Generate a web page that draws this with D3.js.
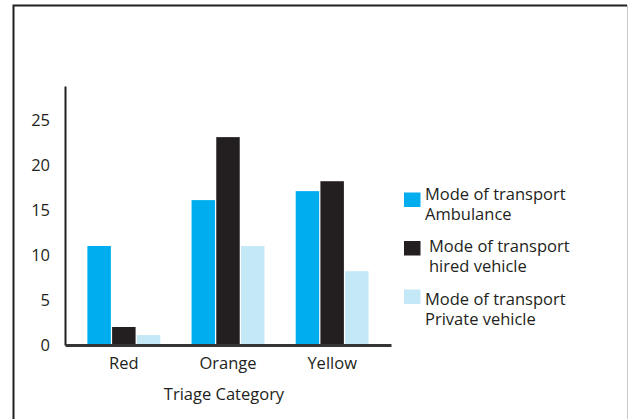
<!DOCTYPE html>
<html>
<head>
<meta charset="utf-8">
<script src="https://cdn.jsdelivr.net/npm/d3@7"></script>
<style>
	body{margin:0;background:#fff;}
	text{font-family:"Open Sans",sans-serif;fill:#231f20;}
</style>
</head>
<body>
<div id="bar-box"></div>
<script>
const categories= ["Red","Orange","Yellow"];
const seriesNames= ["Ambulance","hired vehicle","Private vehicle"];
const ambulance= [11,16.1,17.1];
const hiredVehicle= [2,23.1,18.2];
const privateVehicle= [1.1,11,8.2];
const yTicks= [0,5,10,15,20,25];
const colors= ["#00aeef","#231f20","#c5e8f7"];

const chart=
{
	draw: function ()
	{
		let width=629, height=419;
		let padd = {left: 65, right: 238, top: 86, bottom: 74};
		const svg= d3.select("#bar-box")
		.append("svg")
		.attr("width", width)
		.attr("height", height);

		//frame round the figure
		svg.append("path")
		.attr("d", "M13.5,430V5.5H627")
		.attr("fill","none")
		.attr("stroke","#231f20")
		.attr("stroke-width",2);
		svg.append("line")
		.attr("x1",627.5).attr("x2",627.5)
		.attr("y1",5).attr("y2",430)
		.attr("stroke","#c8c8c8")
		.attr("stroke-width",1);

		let rows= categories.map((c,i)=> ({cat:c, vals:[ambulance[i],hiredVehicle[i],privateVehicle[i]]}));

		//scales
		const xScale= d3.scaleBand()
		.domain(categories)
		.range([padd.left, width-padd.right])
		.paddingInner(0.3)
		.paddingOuter(0.215);
		const xSub= d3.scaleBand()
		.domain(d3.range(seriesNames.length))
		.range([0, xScale.bandwidth()])
		.paddingInner(0.05);
		const yScale= d3.scaleLinear()
		.domain([0,28.78])
		.range([height-padd.bottom, padd.top]);

		//bars
		svg.append("g")
		.selectAll("g")
		.data(rows)
		.enter()
		.append("g")
		.attr("transform", (d)=> `translate(${xScale(d.cat)},0)`)
		.selectAll("rect")
		.data((d)=> d.vals)
		.enter()
		.append("rect")
		.attr("x", (d,i)=> xSub(i))
		.attr("y", (d)=> yScale(d))
		.attr("width", xSub.bandwidth())
		.attr("height", (d)=> yScale(0)-yScale(d))
		.attr("fill", (d,i)=> colors[i]);

		//Y axis
		const yAxis= d3.axisLeft(yScale)
		.tickValues(yTicks)
		.tickSize(0)
		.tickPadding(15);
		const gy= svg.append("g")
		.attr("transform", `translate(${padd.left},0)`)
		.call(yAxis);
		gy.select(".domain").attr("stroke","#231f20").attr("stroke-width",2);
		gy.selectAll("text").attr("font-size",16.5).attr("font-family",null).attr("fill","#231f20");

		//X axis
		const xAxis= d3.axisBottom(xScale)
		.tickSize(0)
		.tickPadding(12);
		const gx= svg.append("g")
		.attr("transform", `translate(0,${yScale(0)})`)
		.call(xAxis);
		gx.select(".domain").attr("stroke","#353535").attr("stroke-width",3);
		gx.selectAll("text").attr("font-size",16.5).attr("font-family",null).attr("fill","#231f20");

		//axis title
		svg.append("text")
		.attr("x", 224)
		.attr("y", 400)
		.attr("text-anchor","middle")
		.attr("font-size",16.5)
		.text("Triage Category");

		//legend
		const legend= svg.append("g");
		legend.selectAll("rect")
		.data(seriesNames)
		.enter()
		.append("rect")
		.attr("x",404)
		.attr("y",(d,i)=> 192.5+i*48.5)
		.attr("width",16.5)
		.attr("height",14.5)
		.attr("fill",(d,i)=> colors[i]);
		let lbl= legend.selectAll("text")
		.data(seriesNames)
		.enter()
		.append("text")
		.attr("font-size",16.5)
		.attr("y",(d,i)=> 199.5+i*52.5);
		lbl.append("tspan")
		.attr("x",(d,i)=> i==1 ? 429 : 425)
		.text("Mode of transport");
		lbl.append("tspan")
		.attr("x",(d,i)=> i==1 ? 429 : 425)
		.attr("dy",20)
		.text((d)=> d);
	}
};

document.addEventListener("DOMContentLoaded", function(event)
{
	chart.draw();
});
</script>
</body>
</html>
